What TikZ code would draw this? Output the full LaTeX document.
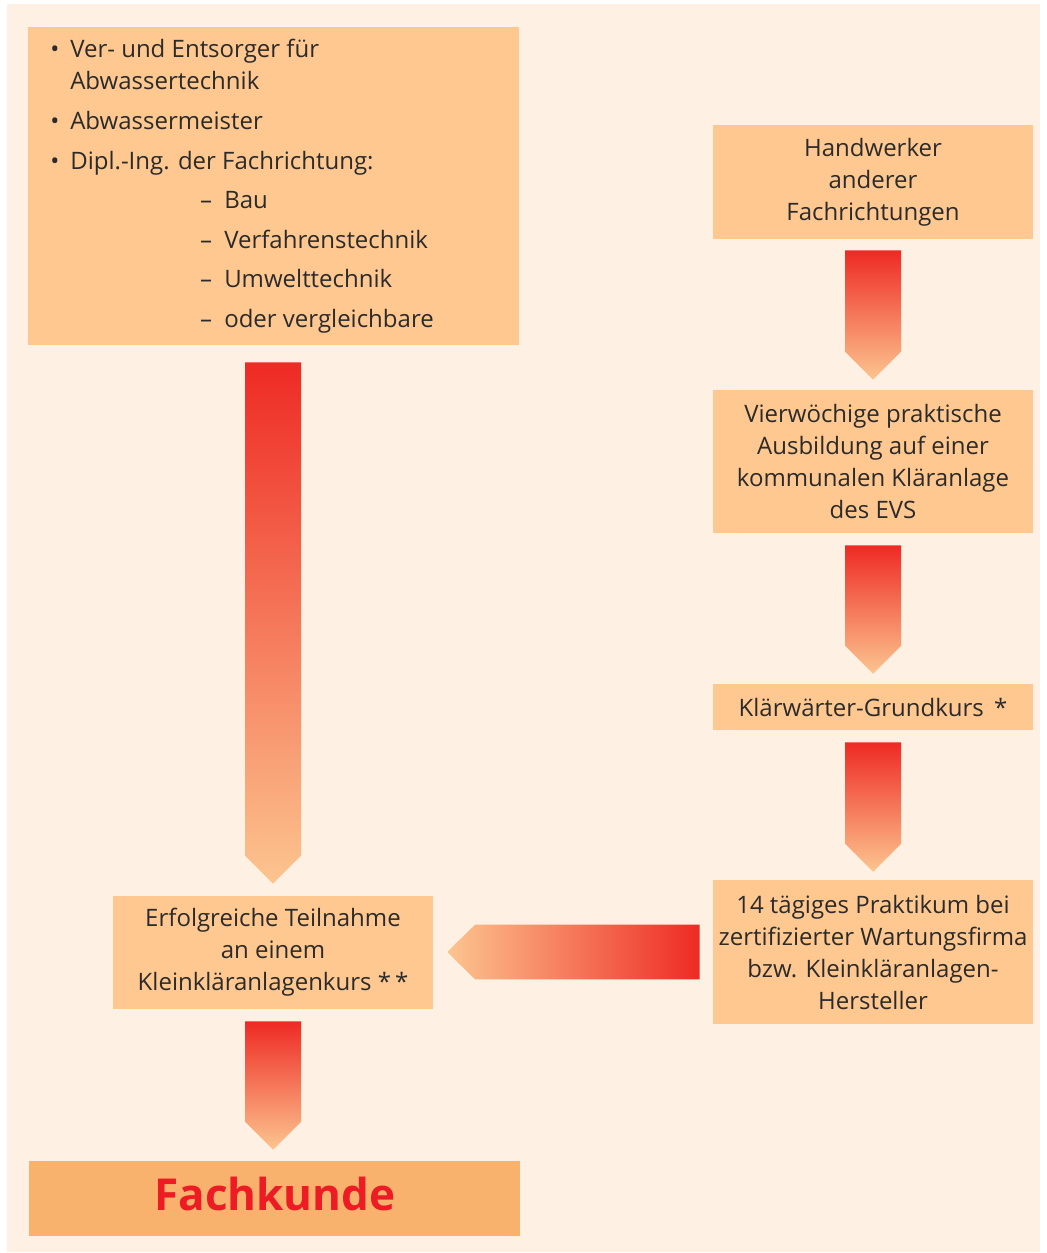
\documentclass[tikz,border=0pt]{standalone}
\usepackage{fontspec}
\setmainfont{Open Sans}
\usetikzlibrary{calc}
\definecolor{bgc}{HTML}{FEF0E2}
\definecolor{boxc}{HTML}{FFC890}
\definecolor{goalc}{HTML}{F9B26E}
\definecolor{ared}{HTML}{EE2A24}
\definecolor{alight}{HTML}{FCC590}
\definecolor{txt}{HTML}{2B2B2B}
\definecolor{goaltxt}{HTML}{ED1C24}
\newcommand\vshape[4]{%
  \shade[top color=ared, bottom color=alight] let \p1=(#1.south), \p2=(#2.north) in
   (\x1-21pt,\y1-#3) -- (\x1+21pt,\y1-#3) -- (\x1+21pt,\y2+#4+21pt) -- (\x1,\y2+#4) -- (\x1-21pt,\y2+#4+21pt) -- cycle;}
\begin{document}
\begin{tikzpicture}[x=0.75pt,y=-0.75pt,
  box/.style={fill=boxc, inner sep=0pt, text=txt, align=center, minimum width=240pt,
    font=\fontsize{18}{24}\selectfont},
  txtline/.style={anchor=base west, inner sep=0pt, text=txt, font=\fontsize{18}{24}\selectfont},
  bulletmark/.style={anchor=base, inner sep=0pt, text=txt, font=\fontsize{18}{24}\selectfont}]
\useasboundingbox (0,0) rectangle (1046,1253);
\fill[white] (0,0) rectangle (1046,1253);
\fill[bgc] (7,4) rectangle (1040,1252);

% top-left box
\node[box, minimum width=368.25pt, minimum height=238.5pt] (A) at (273,186) {};
\node[bulletmark] (b1) at (55,57) {•};
\node[txtline] (t1) at (70,57) {Ver- und Entsorger für};
\node[txtline] (t2) at (70,89) {Abwassertechnik};
\node[bulletmark] (b2) at (55,129) {•};
\node[txtline] (t3) at (70,129) {Abwassermeister};
\node[bulletmark] (b3) at (55,169) {•};
\node[txtline] (t4) at (70,169) {Dipl.-Ing. der Fachrichtung:};
\node[bulletmark] (d1) at (206,208) {–};
\node[txtline] (t5) at (224,208) {Bau};
\node[bulletmark] (d2) at (206,248) {–};
\node[txtline] (t6) at (224,248) {Verfahrenstechnik};
\node[bulletmark] (d3) at (206,287) {–};
\node[txtline] (t7) at (224,287) {Umwelttechnik};
\node[bulletmark] (d4) at (206,327) {–};
\node[txtline] (t8) at (224,327) {oder vergleichbare};

% right column
\node[box, minimum height=85.5pt] (B) at (873,182) {Handwerker\\anderer\\Fachrichtungen};
\node[box, minimum height=107.25pt] (C) at (873,461.5) {Vierwöchige praktische\\Ausbildung auf einer\\kommunalen Kläranlage\\des EVS};
\node[box, minimum height=34.5pt] (D) at (873,707) {Klärwärter-Grundkurs \,*};
\node[box, minimum height=108pt] (E) at (873,952) {14 tägiges Praktikum bei\\zertifizierter Wartungsfirma\\bzw. Kleinkläranlagen-\\Hersteller};

% left column
\node[box, minimum height=84.75pt] (F) at (273,952.5) {Erfolgreiche Teilnahme\\an einem\\Kleinkläranlagenkurs *\,*};
\node[fill=goalc, inner sep=0pt, minimum width=368.25pt, minimum height=56.25pt] (G) at (274.5,1198.5) {};
\node[anchor=base, inner sep=0pt, text=goaltxt, font=\fontsize{33}{40}\selectfont\bfseries] (GT) at (275,1210) {Fachkunde};

% arrows
\vshape{B}{C}{8.25pt}{7.5pt}
\vshape{C}{D}{9pt}{7.5pt}
\vshape{D}{E}{9pt}{6pt}
\vshape{A}{F}{12.75pt}{9pt}
\vshape{F}{G}{9pt}{8.25pt}
\shade[left color=alight, right color=ared] let \p1=(E.west), \p2=(F.east) in
  (\x1-9.75pt,\y1+20.6pt) -- (\x1-9.75pt,\y1-20.6pt) -- (\x2+31.5pt,\y1-20.6pt)
  -- (\x2+10.5pt,\y1) -- (\x2+31.5pt,\y1+20.6pt) -- cycle;
\end{tikzpicture}
\end{document}
